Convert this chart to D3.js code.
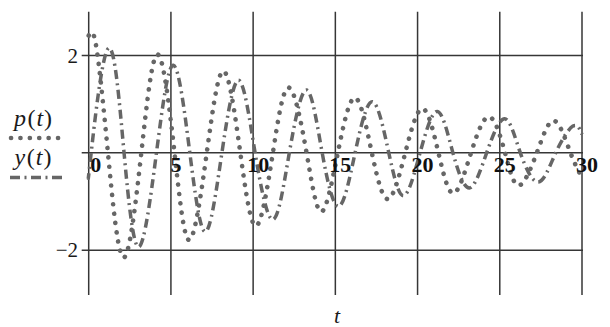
<!DOCTYPE html>
<html>
<head>
<meta charset="utf-8">
<script src="https://cdn.jsdelivr.net/npm/d3@7"></script>
<style>
  html, body { margin: 0; padding: 0; background: #fff; }
  svg { display: block; }
</style>
</head>
<body>
<svg id="chart" width="610" height="327"></svg>
<script>
// ---- data ----
const xTicks = [0, 5, 10, 15, 20, 25, 30];
const yTicks = [-2, 0, 2];
const xTickLabels = ["0", "5", "10", "15", "20", "25", "30"];
const yTickLabels = ["\u22122", "", "2"];

// p(t): dotted trace (start, extrema and zero crossings)
const pT = [0, 0.45, 1.17, 2.12, 3.2, 4.2, 5.22, 6.12, 7.18, 8.2, 9.22, 10.18, 11.2, 12.17, 13.25,
            14.15, 15.15, 16.2, 17.22, 18.2, 19.25, 20.3, 21.27, 22.18, 23.25, 24.35, 25.32, 26.15,
            27.25, 28.3, 29.3, 30];
const pV = [2.41, 2.2, 0, -2.15, 0, 2.02, 0, -1.79, 0, 1.68, 0, -1.50, 0, 1.34, 0,
            -1.21, 0, 1.13, 0, -0.95, 0, 0.91, 0, -0.83, 0, 0.74, 0, -0.67,
            0, 0.66, 0, -0.50];

// y(t): dash-dot trace
const yT = [0, 0.15, 1.2, 2.15, 3.05, 4.12, 5.15, 6.15, 7.1, 8.1, 9.12, 10.12, 11.2, 12.2, 13.25,
            14.2, 15.2, 16.2, 17.25, 18.25, 19.15, 20.15, 21.2, 22.15, 23.15, 24.2, 25.3, 26.25,
            27.35, 28.4, 29.45, 30];
const yV = [-0.45, 0, 2.15, 0, -1.93, 0, 1.80, 0, -1.62, 0, 1.49, 0, -1.37, 0, 1.29,
            0, -1.10, 0, 1.05, 0, -0.88, 0, 0.85, 0, -0.72, 0, 0.70, 0,
            -0.60, 0, 0.55, 0.38];

const seriesNames = ["p(t)", "y(t)"];
const axisTitle = "t";

// ---- drawing ----
const FONT = "'Liberation Serif', 'Times New Roman', Tinos, serif";
const svg = d3.select("#chart");
const x = d3.scaleLinear().domain([0, 30]).range([88.7, 582]);
const y = d3.scaleLinear().domain([-2.92, 2.9]).range([295, 11.7]);

const gridColor = "#363636";
const traceColor = "#666666";

// vertical grid lines
svg.append("g").selectAll("line").data(xTicks).join("line")
  .attr("x1", d => x(d)).attr("x2", d => x(d))
  .attr("y1", y.range()[1]).attr("y2", y.range()[0])
  .attr("stroke", gridColor).attr("stroke-width", 1.5);

// horizontal grid lines (extend a little to the left, like tick marks)
svg.append("g").selectAll("line").data(yTicks).join("line")
  .attr("x1", x(0) - 7).attr("x2", x(30) + 1)
  .attr("y1", d => y(d)).attr("y2", d => y(d))
  .attr("stroke", gridColor).attr("stroke-width", 1.5);

// y tick labels
svg.append("g").selectAll("text").data(yTicks).join("text")
  .attr("x", 78).attr("y", d => y(d) + 7)
  .attr("text-anchor", "end")
  .style("font-family", FONT)
  .attr("font-size", 21)
  .attr("fill", "#1a1a1a")
  .text((d, i) => yTickLabels[i]);

// traces
const line = d3.line().curve(d3.curveNatural)
  .x(d => x(d[0])).y(d => y(d[1]));

const pData = pT.map((t, i) => [t, pV[i]]);
const yData = yT.map((t, i) => [t, yV[i]]);

svg.append("path").datum(yData)
  .attr("d", line)
  .attr("fill", "none")
  .attr("stroke", traceColor)
  .attr("stroke-width", 3.5)
  .attr("stroke-dasharray", "9 4.5 2 4.5");

svg.append("path").datum(pData)
  .attr("d", line)
  .attr("fill", "none")
  .attr("stroke", traceColor)
  .attr("stroke-width", 4.6)
  .attr("stroke-linecap", "round")
  .attr("stroke-dasharray", "0.1 9.3");

// x tick labels (bold, sitting just below the zero line)
svg.append("g").selectAll("text").data(xTicks).join("text")
  .attr("x", d => x(d) + (d === 0 ? 7 : 5))
  .attr("y", y(0) + 19.5)
  .attr("text-anchor", "middle")
  .style("font-family", FONT)
  .attr("font-size", 22)
  .attr("font-weight", "bold")
  .attr("fill", "#111")
  .text((d, i) => xTickLabels[i]);

// legend
function legendLabel(txt, cx, by) {
  const m = txt.match(/^(\w)\((\w)\)$/);
  const t = svg.append("text").attr("x", cx).attr("y", by)
    .attr("text-anchor", "middle")
    .style("font-family", FONT)
    .attr("font-size", 24)
    .attr("fill", "#1a1a1a");
  t.append("tspan").attr("font-style", "italic").text(m[1]);
  t.append("tspan").attr("dx", 1.5).text("(");
  t.append("tspan").attr("font-style", "italic").attr("dx", 1).text(m[2]);
  t.append("tspan").attr("dx", 1).text(")");
}
legendLabel(seriesNames[0], 33, 126);
svg.append("line")
  .attr("x1", 11).attr("x2", 60).attr("y1", 138).attr("y2", 138)
  .attr("stroke", traceColor).attr("stroke-width", 4.6)
  .attr("stroke-linecap", "round").attr("stroke-dasharray", "0.1 9.3");

legendLabel(seriesNames[1], 33, 165);
svg.append("line")
  .attr("x1", 10).attr("x2", 65).attr("y1", 177.5).attr("y2", 177.5)
  .attr("stroke", traceColor).attr("stroke-width", 3.5)
  .attr("stroke-dasharray", "10 4.5 2 4.5");

// axis title
svg.append("text")
  .attr("x", 337).attr("y", 323)
  .attr("text-anchor", "middle")
  .style("font-family", FONT)
  .attr("font-size", 22)
  .attr("font-style", "italic")
  .attr("fill", "#1a1a1a")
  .text(axisTitle);
</script>
</body>
</html>
